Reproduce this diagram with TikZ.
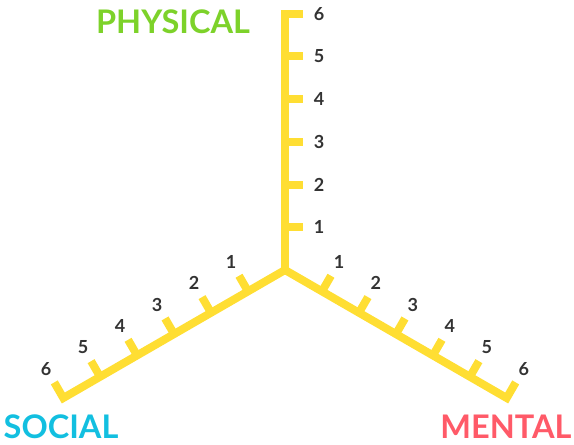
\documentclass[tikz,border=0pt]{standalone}
\usepackage{fontspec}
\setmainfont{Lato}
\usetikzlibrary{calc}
\definecolor{axisyellow}{HTML}{FFDE33}
\definecolor{numgray}{HTML}{333333}
\definecolor{physgreen}{HTML}{7DD22A}
\definecolor{socblue}{HTML}{12BFE0}
\definecolor{mentred}{HTML}{FF5A68}
\begin{document}
\begin{tikzpicture}
  [x=1pt, y=1pt,
   axis/.style={draw=axisyellow, line width=8pt},
   num/.style={text=numgray, font=\bfseries\fontsize{18}{18}\selectfont},
   dimlabel/.style={font=\bfseries\fontsize{32.5}{32.5}\selectfont}]

  \useasboundingbox (0,0) rectangle (574,445);
  \coordinate (o) at (285,175);

  \foreach \ang/\tick/\name in {90/0/phys, 210/120/soc, 330/60/ment} {
    \coordinate (\name6) at ($(o)+(\ang:256)$);
    \draw[axis] ($(\name6)+(\tick:18)$) -- (\name6) -- (o);
    \foreach \i in {1,...,5}
      \draw[axis] ($(o)+(\ang:\i*42.7)$) -- ++(\tick:18);
    \foreach \i in {1,...,6}
      \node[num] (\name num\i) at ($(o)+(\ang:\i*42.7)+(\tick:34)$) {\i};
  }

  \node[dimlabel, text=physgreen] (physical) at (173,423) {PHYSICAL};
  \node[dimlabel, text=socblue] (social) at (61,18) {SOCIAL};
  \node[dimlabel, text=mentred] (mental) at (506,18) {MENTAL};
\end{tikzpicture}
\end{document}
